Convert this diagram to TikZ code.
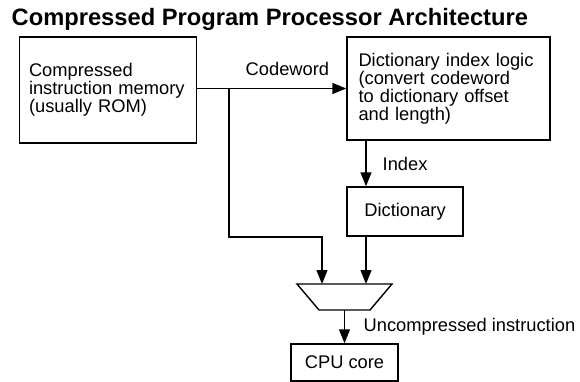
\documentclass[tikz,border=0pt]{standalone}
\usepackage{fontspec}
\setmainfont{Liberation Sans}
\usetikzlibrary{arrows.meta}

\begin{document}
\begin{tikzpicture}[x=1pt, y=-1pt, line width=1.4pt,
	>={Triangle[length=14pt, width=11pt]},
	every node/.style={font=\fontsize{18.3}{18}\selectfont},
	textBlock/.style={draw, align=left, inner ysep=0pt},
	plainBlock/.style={draw, inner sep=0pt},
	wireText/.style={anchor=base west, inner sep=0pt}]

	\useasboundingbox (0,0) rectangle (580,382);

% Title.

	\node[wireText, font=\bfseries\fontsize{23.7}{28}\selectfont] (title) at (11,26) {Compressed Program Processor Architecture};

% Draw blocks.

	\node[textBlock, text width=158pt, inner xsep=9.5pt, minimum height=106pt] (memory) at (108,90) {Compressed\\instruction memory\\(usually ROM)};
	\node[textBlock, text width=180pt, inner xsep=11.5pt, minimum height=103pt] (indexLogic) at (448.5,88.5) {Dictionary index logic\\(convert codeword\\to dictionary offset\\and length)};
	\node[plainBlock, minimum width=116pt, minimum height=49pt] (dictionary) at (405,211.5) {Dictionary};
	\node[plainBlock, minimum width=107pt, minimum height=37pt] (cpu) at (344.5,362.5) {CPU core};

	%mux
	\coordinate (muxTL) at (297,284);
	\coordinate (muxTR) at (392,284);
	\coordinate (muxBR) at (370,310);
	\coordinate (muxBL) at (319,310);
	\draw (muxTL) -- (muxTR) -- (muxBR) -- (muxBL) -- cycle;

	%mux inputs and output
	\coordinate (muxInA) at (322,284);
	\coordinate (muxInB) at (366,284);
	\coordinate (muxOut) at (344.5,310);

	%branch of the codeword
	\coordinate (split) at (229,88.5);
	\coordinate (bend) at (322,237);

% Draw wires.

	\draw[->] (indexLogic.west -| memory.east) -- (indexLogic.west);
	\draw[->] (split) |- (bend) -- (muxInA);
	\draw[->] (indexLogic.south -| muxInB) -- (dictionary.north -| muxInB);
	\draw[->] (dictionary.south -| muxInB) -- (muxInB);
	\draw[->] (muxOut) -- (cpu.north);

% Draw wire labels.

	\node[wireText] (codeword) at (245,76) {Codeword};
	\node[wireText] (index) at (382,170) {Index};
	\node[wireText] (uncompressed) at (363,331) {Uncompressed instruction};

\end{tikzpicture}
\end{document}
